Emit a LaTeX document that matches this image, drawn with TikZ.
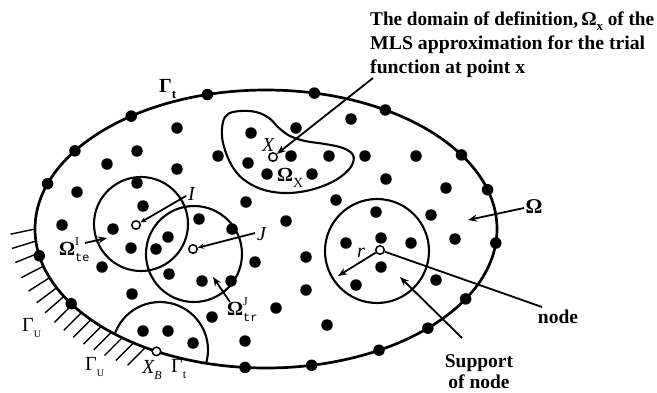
\documentclass[tikz,border=0pt]{standalone}
\usepackage{fontspec}
\setmainfont{Liberation Serif}
\newfontfamily\monofam{Liberation Mono}
\usetikzlibrary{calc,arrows.meta}
\newcommand\lsub[2][12]{\raisebox{-0.3em}{\fontsize{#1}{#1}\selectfont #2}}
\newcommand\lsup[2][12]{\raisebox{0.5em}{\fontsize{#1}{#1}\selectfont #2}}
\begin{document}
\begin{tikzpicture}[x=1pt,y=-1pt,
  dot/.style={circle,fill=black,inner sep=0pt,minimum size=11.5pt},
  odot/.style={circle,draw=black,fill=white,line width=1.5pt,inner sep=0pt,minimum size=8.5pt},
  bound/.style={line width=2.7pt},
  ring/.style={line width=2.1pt},
  hatch/.style={line width=1.4pt},
  plain/.style={line width=1.8pt},
  arr/.style={line width=1.8pt,-{Stealth[length=9pt,width=7pt]}},
  arrs/.style={line width=1.8pt,-{Stealth[length=6pt,width=5pt]}},
  txt/.style={inner sep=0pt,font=\fontsize{19.5}{24}\selectfont\bfseries},
  sym/.style={inner sep=0pt,font=\fontsize{20}{20}\selectfont},
]
\useasboundingbox (0,0) rectangle (657,392);
\coordinate (C) at (266,229);
% outer boundary
\draw[bound] (C) ellipse [x radius=231pt,y radius=139pt];
% hatching on Gamma_u
\foreach \t/\th in {180/12,175/17,170/22,164.5/27.5,159.5/32.5,155/37,151/41,147/45,143/45,139.3/45,135.5/45,132/45,128.5/45,125/45,121.5/45}{
  \pgfmathsetmacro\hd{180-\th}
  \draw[hatch] ($(C)+(\t:231 and 139)$) -- ++(\hd:25);
}
% boundary support (semicircle)
\begin{scope}
  \clip (C) ellipse [x radius=231pt,y radius=139pt];
  \draw[ring] (160,350) circle [radius=48pt];
\end{scope}
% supports
\draw[ring] (141,224) circle [radius=47pt];
\draw[ring] (194,254) circle [radius=48pt];
\draw[ring] (377,251) circle [radius=52pt];
% domain of definition
\draw[ring] plot[smooth cycle,tension=0.6] coordinates {
  (223,122) (228,114) (240,111) (256,112) (269,118) (279,128) (290,136)
  (305,141) (325,144) (343,148) (353,155) (352,165) (343,175) (328,184)
  (306,191) (283,193) (261,189) (243,179) (232,166) (225,150) (222,136)};
% interior nodes
\foreach \p [count=\i] in {(177,128),(137,151),(107,164),(177,169),(137,183),(77,192),(218,156),
  (251,133),(296,128),(291,156),(248,163),(267,174),(312,174),(329,156),(351,119),(365,156),
  (246,202),(336,200),(416,156),(386,179),(446,188),(376,212),(431,215),
  (346,243),(381,238),(411,243),(455,239),(381,267),(356,285),(436,280),
  (306,257),(306,290),(327,325),
  (143,206),(113,229),(131,248),(156,249),(168,237),(62,225),(102,267),
  (199,219),(232,229),(169,274),(202,281),(231,281),(255,262),(286,221),
  (132,294),(212,317),(276,308),(193,343),(143,331),(168,331),(245,341)}
  \node[dot] (d\i) at \p {};
% boundary nodes
\foreach \t [count=\i] in {-161,-145.8,-125.7,-104.7,-77.9,-58.9,-32.2,-16.4,5.8,30.2,45.5,60.7,78.6,95.2,147.5,168.9}
  \node[dot] (b\i) at ($(C)+(\t:231 and 139)$) {};
% special (open) points
\node[odot] (nX) at (273,157) {};
\node[odot] (nI) at (136,225) {};
\node[odot] (nJ) at (193,249) {};
\node[odot] (nR) at (380,250) {};
\node[odot] (nXB) at ($(C)+(118.3:231 and 139)$) {};
% texts
\node[txt,anchor=base west] (t1) at (370,25) {\resizebox{284pt}{\height}{The domain of definition,\,Ω\lsub[13]{x} of the}};
\node[txt,anchor=base west] (t2) at (370,49) {\resizebox{275pt}{\height}{MLS approximation for the trial}};
\node[txt,anchor=base west] (t3) at (370,73) {\resizebox{155pt}{\height}{function at point x}};
\node[txt,anchor=base] (tnode) at (558,323) {node};
\node[txt,anchor=base] (tsup1) at (479,367) {Support};
\node[txt,anchor=base] (tsup2) at (479,388) {of node};
\node[sym,anchor=base west] (gT1) at (159,92) {\bfseries Γ\lsub[13]{t}};
\node[sym,anchor=base west] (gU1) at (22,331) {Γ\lsub[10]{U}};
\node[sym,anchor=base west] (gU2) at (85,370) {Γ\lsub[10]{U}};
\node[sym,anchor=base west] (lXB) at (142,373) {\itshape X\lsub[12]{B}};
\node[sym,anchor=base west] (gT2) at (171,372) {Γ\lsub[12]{t}};
\node[sym,anchor=base] (lOm) at (534,213) {\fontsize{21}{21}\selectfont\bfseries Ω};
\node[sym,anchor=base west] (lOX) at (277,181) {\bfseries Ω\lsub[14]{\mdseries X}};
\node[sym,anchor=base west] (lX) at (262,151) {\itshape X};
\node[sym,anchor=base west] (lI) at (188,200) {\itshape I};
\node[sym,anchor=base west] (lJ) at (257,240) {\itshape J};
\node[sym,anchor=base west] (lr) at (357,257) {\itshape r};
\node[sym,anchor=base west] (lOte) at (59,255) {\bfseries Ω\rlap{\lsup[12]{\mdseries I}}\lsub[12]{\mdseries\monofam te}};
\node[sym,anchor=base west] (lOtr) at (227,315) {\bfseries Ω\rlap{\lsup[12]{\mdseries J}}\lsub[12]{\mdseries\monofam tr}};
% connector end points
\coordinate (tA) at (373,78);
\coordinate (iA) at (186,196);
\coordinate (jA) at (255,233);
\coordinate (oteA) at (85,243);
\coordinate (oteB) at (107,238);
\coordinate (otrA) at (230,302);
\coordinate (otrB) at (213,277);
\coordinate (rB) at (338,276);
\coordinate (nodeA) at (542,307);
\coordinate (supA) at (462,338);
\coordinate (supB) at (400,277);
\coordinate (omA) at (524,208);
\coordinate (omB) at (468,220);
% connectors
\draw[arr] (tA) -- (nX);
\draw[arrs] (iA) -- (nI);
\draw[arrs] (jA) -- (nJ);
\draw[arr] (oteA) -- (oteB);
\draw[arr] (otrA) -- (otrB);
\draw[arr] (nR) -- (rB);
\draw[plain] (nR) -- (nodeA);
\draw[arr] (supA) -- (supB);
\draw[arr] (omA) -- (omB);
\end{tikzpicture}
\end{document}
